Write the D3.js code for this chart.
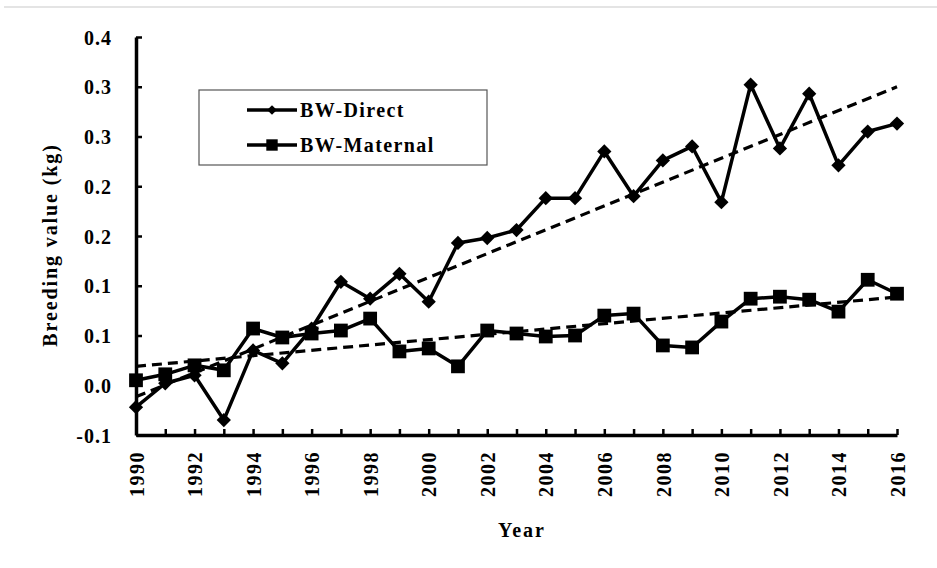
<!DOCTYPE html>
<html>
<head>
<meta charset="utf-8">
<script src="https://cdn.jsdelivr.net/npm/d3@7"></script>
<style>
	body { margin: 0; background: #fff; }
	svg { display: block; }
	text { font-family: "Liberation Serif", "Times New Roman", serif; font-weight: bold; fill: #000; }
</style>
</head>
<body>
<script>
// data
var years = [1990,1991,1992,1993,1994,1995,1996,1997,1998,1999,2000,2001,2002,2003,
	2004,2005,2006,2007,2008,2009,2010,2011,2012,2013,2014,2015,2016];
var bwDirect = [-0.022,0.002,0.010,-0.035,0.035,0.022,0.057,0.104,0.087,0.112,0.084,0.143,0.148,0.156,
	0.188,0.188,0.235,0.190,0.226,0.240,0.184,0.302,0.238,0.293,0.221,0.255,0.263];
var bwMaternal = [0.005,0.011,0.020,0.015,0.057,0.048,0.052,0.055,0.067,0.034,0.037,0.019,0.055,0.052,
	0.049,0.050,0.070,0.072,0.040,0.038,0.064,0.087,0.089,0.086,0.074,0.106,0.092];
// linear trend lines, end points at 1990 and 2016
var trendDirect = [-0.0115, 0.300];
var trendMaternal = [0.019, 0.0887];
var yTickValues = [-0.05,0,0.05,0.1,0.15,0.2,0.25,0.3,0.35];
var yTickLabels = ["-0.1","0.0","0.1","0.1","0.2","0.2","0.3","0.3","0.4"];
var seriesNames = ["BW-Direct","BW-Maternal"];

var w = 937, h = 568;
var mLeft = 136, mRight = 897, mTop = 37, mBottom = 435;

var svg = d3.select("body").append("svg").attr("width", w).attr("height", h);

// faint frame line at the top of the picture
svg.append("line").attr("x1", 4).attr("x2", w).attr("y1", 7).attr("y2", 7)
	.attr("stroke", "#e4e4e4").attr("stroke-width", 2);

var x = d3.scaleLinear().domain([1990, 2016]).range([mLeft, mRight]);
var y = d3.scaleLinear().domain([-0.05, 0.35]).range([mBottom, mTop]);

// y axis
var yAxis = svg.append("g").attr("transform", "translate(" + mLeft + ",0)")
	.call(d3.axisLeft(y).tickValues(yTickValues).tickSizeInner(-6).tickSizeOuter(0).tickPadding(24)
		.tickFormat(function(d, i){ return yTickLabels[i]; }));
yAxis.select(".domain").attr("stroke-width", 3.5);
yAxis.selectAll(".tick line").attr("stroke-width", 2.5);
yAxis.selectAll("text").attr("font-size", 20).attr("letter-spacing", "1px")
	.attr("dy", "0.36em").style("font-family", "Liberation Serif").style("font-weight", "bold");

// x axis
var xAxis = svg.append("g").attr("transform", "translate(0," + mBottom + ")")
	.call(d3.axisBottom(x).tickValues(years).tickSizeInner(-6).tickSizeOuter(0)
		.tickFormat(function(d){ return d % 2 == 0 ? d : ""; }));
xAxis.select(".domain").attr("stroke-width", 3.5);
xAxis.selectAll(".tick line").attr("stroke-width", 2.5);
xAxis.selectAll("text")
	.attr("font-size", 20).attr("letter-spacing", "1.5px")
	.style("font-family", "Liberation Serif").style("font-weight", "bold")
	.attr("text-anchor", "end")
	.attr("transform", "rotate(-90)")
	.attr("x", -16).attr("y", 0).attr("dy", "0.36em");

// axis titles
svg.append("text").attr("x", 522).attr("y", 537).attr("text-anchor", "middle")
	.attr("font-size", 20).attr("letter-spacing", "2px").text("Year");
svg.append("text").attr("transform", "translate(57,245) rotate(-90)").attr("text-anchor", "middle")
	.attr("font-size", 20).attr("letter-spacing", "1.9px").text("Breeding value (kg)");

var line = d3.line()
	.x(function(d, i){ return x(years[i]); })
	.y(function(d){ return y(d); });

svg.append("path").datum(bwDirect).attr("d", line)
	.attr("fill", "none").attr("stroke", "#000").attr("stroke-width", 3.5).attr("stroke-linejoin", "round");
svg.append("path").datum(bwMaternal).attr("d", line)
	.attr("fill", "none").attr("stroke", "#000").attr("stroke-width", 3.5).attr("stroke-linejoin", "round");

var diamond = d3.symbol().type(d3.symbolDiamond2).size(130);
var square = d3.symbol().type(d3.symbolSquare).size(190);

svg.selectAll(".dmark").data(bwDirect).enter().append("path")
	.attr("class", "dmark")
	.attr("d", diamond)
	.attr("transform", function(d, i){ return "translate(" + x(years[i]) + "," + y(d) + ")"; })
	.attr("fill", "#000");
svg.selectAll(".smark").data(bwMaternal).enter().append("path")
	.attr("class", "smark")
	.attr("d", square)
	.attr("transform", function(d, i){ return "translate(" + x(years[i]) + "," + y(d) + ")"; })
	.attr("fill", "#000");

// trend lines
[trendDirect, trendMaternal].forEach(function(t){
	svg.append("line")
		.attr("x1", x(1990)).attr("y1", y(t[0]))
		.attr("x2", x(2016)).attr("y2", y(t[1]))
		.attr("stroke", "#000").attr("stroke-width", 3.2).attr("stroke-dasharray", "10,6");
});

// legend
var legend = svg.append("g");
legend.append("rect").attr("x", 199).attr("y", 90).attr("width", 288).attr("height", 75)
	.attr("fill", "#fff").attr("stroke", "#555").attr("stroke-width", 1.2);
var ly = [110, 145];
seriesNames.forEach(function(name, i){
	legend.append("line").attr("x1", 247).attr("x2", 297).attr("y1", ly[i]).attr("y2", ly[i])
		.attr("stroke", "#000").attr("stroke-width", 3.5);
	legend.append("path")
		.attr("d", i == 0 ? d3.symbol().type(d3.symbolDiamond2).size(60)() : d3.symbol().type(d3.symbolSquare).size(130)())
		.attr("transform", "translate(272," + ly[i] + ")");
	legend.append("text").attr("x", 300).attr("y", ly[i]).attr("dy", "0.34em")
		.attr("font-size", 20).attr("letter-spacing", "1.4px").text(name);
});
</script>
</body>
</html>
